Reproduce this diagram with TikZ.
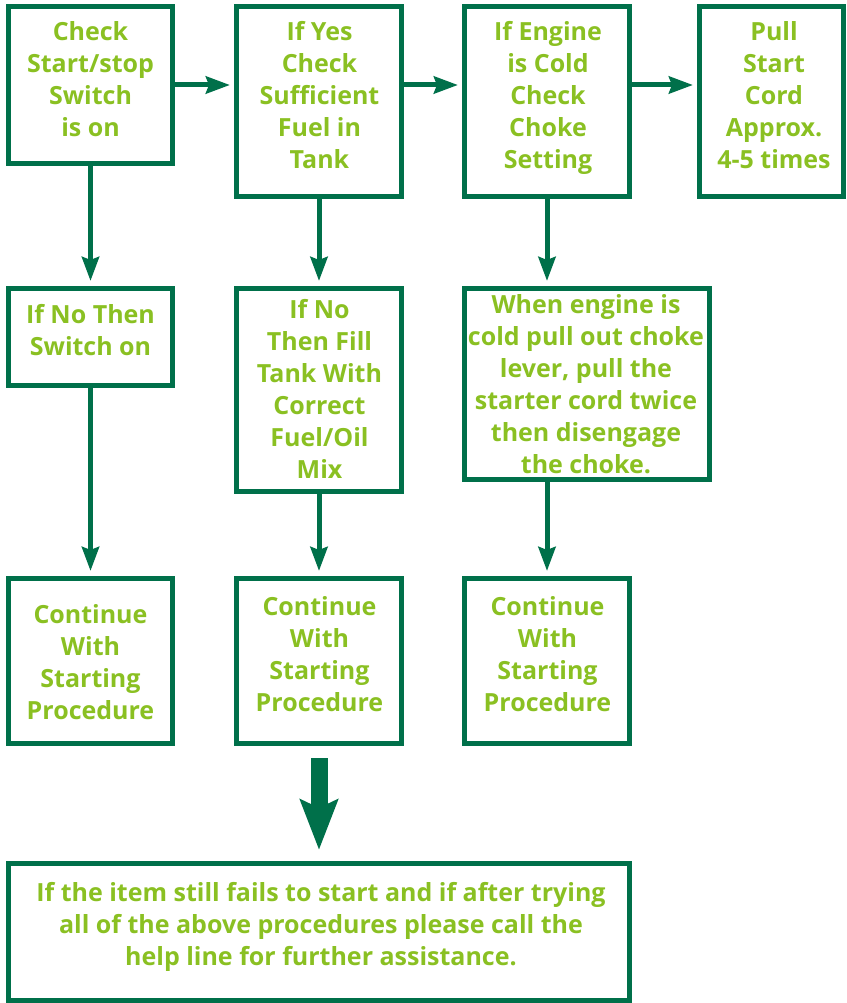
\documentclass[tikz,border=0pt]{standalone}
\usepackage{fontspec}
\setmainfont{Open Sans}
\usepackage{tikz}
\usetikzlibrary{arrows.meta,positioning}

\definecolor{framegreen}{RGB}{0,112,74}
\definecolor{textgreen}{RGB}{138,192,34}

\begin{document}
\begin{tikzpicture}[x=1pt, y=-1pt,
	box/.style = {draw=framegreen, line width=5pt, inner sep=0pt},
	txt/.style = {text=textgreen, font=\fontsize{25}{32}\selectfont\bfseries,
		align=center, anchor=north, inner sep=0pt},
	flow/.style = {draw=framegreen, line width=5pt,
		-{Stealth[length=24pt, width=17pt, inset=3pt]}},
	bigflow/.style = {draw=framegreen, line width=17pt,
		-{Stealth[length=50pt, width=37pt, inset=8pt]}}]

\useasboundingbox (0, 0) rectangle (846, 1003);

% top row
\node[box, minimum width=164, minimum height=157] (chk) at (90.5, 85) {};
\node[box, minimum width=165, minimum height=190] (fuel) at (319, 101.5) {};
\node[box, minimum width=165, minimum height=190] (choke) at (547, 101.5) {};
\node[box, minimum width=144, minimum height=190] (pull) at (771.5, 101.5) {};

\node[txt] (chk-t) at (90.5, 21) {Check\\Start/stop\\Switch\\is on};
\node[txt] (fuel-t) at (319.5, 21) {If Yes\\Check\\Sufficient\\Fuel in\\Tank};
\node[txt] (choke-t) at (548, 21) {If Engine\\is Cold\\Check\\Choke\\Setting};
\node[txt] (pull-t) at (774, 21) {Pull\\Start\\Cord\\Approx.\\4-5 times};

% middle row
\node[box, minimum width=164, minimum height=97] (swon) at (90.5, 337) {};
\node[box, minimum width=165, minimum height=203] (fill) at (319, 390) {};
\node[box, minimum width=245, minimum height=191] (cold) at (587, 384) {};

\node[txt] (swon-t) at (90.5, 304) {If No Then\\Switch on};
\node[txt] (fill-t) at (319.5, 299) {If No\\Then Fill\\Tank With\\Correct\\Fuel/Oil\\Mix};
\node[txt] (cold-t) at (586, 294) {When engine is\\cold pull out choke\\lever, pull the\\starter cord twice\\then disengage\\the choke.};

% bottom row
\node[box, minimum width=164, minimum height=165] (cont1) at (90.5, 661) {};
\node[box, minimum width=165, minimum height=165] (cont2) at (319, 661) {};
\node[box, minimum width=165, minimum height=165] (cont3) at (547, 661) {};

\node[txt] (cont1-t) at (90.5, 604) {Continue\\With\\Starting\\Procedure};
\node[txt] (cont2-t) at (319.5, 596) {Continue\\With\\Starting\\Procedure};
\node[txt] (cont3-t) at (547.5, 596) {Continue\\With\\Starting\\Procedure};

% help line box
\node[box, minimum width=621, minimum height=137] (help) at (319, 932) {};
\node[txt] (help-t) at (321, 882)
	{If the item still fails to start and if after trying\\all of the above procedures please call the\\help line for further assistance.};

% connectors
\draw[flow, shorten >=4pt] (chk.east) -- (chk.east -| fuel.west);
\draw[flow, shorten >=4pt] (chk.east -| fuel.east) -- (chk.east -| choke.west);
\draw[flow, shorten >=4pt] (chk.east -| choke.east) -- (chk.east -| pull.west);

\draw[flow, shorten >=5pt] (chk.south) -- (swon.north);
\draw[flow, shorten >=5pt] (fuel.south) -- (fill.north);
\draw[flow, shorten >=5pt] (choke.south) -- (choke.south |- cold.north);

\draw[flow, shorten >=5pt] (swon.south) -- (cont1.north);
\draw[flow, shorten >=5pt] (fill.south) -- (cont2.north);
\draw[flow, shorten >=5pt] (cold.south -| cont3.north) -- (cont3.north);

\draw[bigflow] ([yshift=-12pt]cont2.south) -- ([yshift=11pt]help.north);

\end{tikzpicture}
\end{document}
